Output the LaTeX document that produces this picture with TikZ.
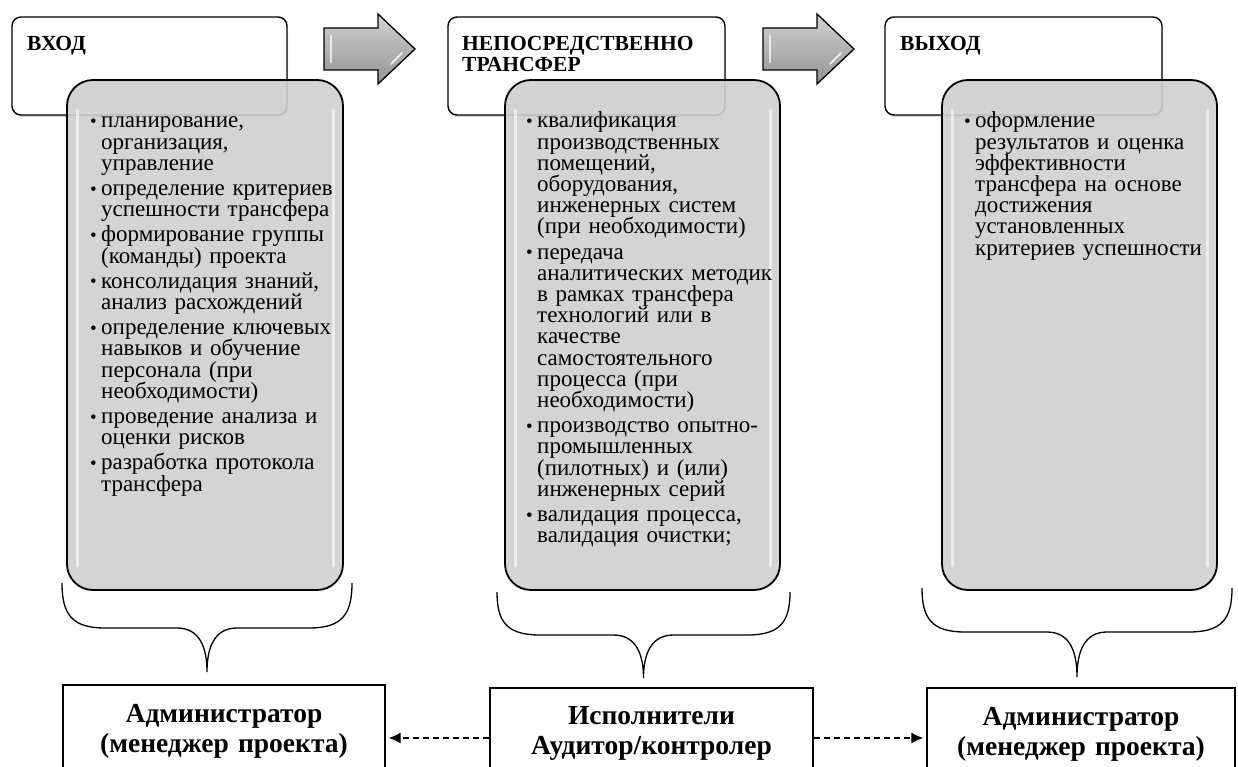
\documentclass[tikz,border=0pt]{standalone}
\usepackage{fontspec}
\setmainfont{Liberation Serif}
\usetikzlibrary{arrows.meta,shadows}
\definecolor{boxgray}{HTML}{CFCFCF}
\newcommand\mybul{\makebox[11pt][l]{\raisebox{0.5pt}{\fontsize{19}{19}\selectfont\textbullet}}}
\newcommand\myind{\hspace*{11pt}}
\newcommand\mybrace[5]{%
  \draw[bracestyle] (#1,#3) .. controls (#1,{#3+(#4-#3)*0.7}) and ({#1+10},#4) .. ({#1+43},#4)
    -- ({(#1+#2)/2-30},#4) .. controls ({(#1+#2)/2-7},#4) and ({(#1+#2)/2},{#4+20}) .. ({(#1+#2)/2},#5)
    .. controls ({(#1+#2)/2},{#4+20}) and ({(#1+#2)/2+7},#4) .. ({(#1+#2)/2+30},#4)
    -- ({#2-43},#4) .. controls ({#2-10},#4) and (#2,{#3+(#4-#3)*0.7}) .. (#2,#3);}
\newcommand\myarrow[1]{%
  \path[blockarrow] (#1,28) -- ({#1+54},28) -- ({#1+54},14) -- ({#1+91},49) -- ({#1+54},84) -- ({#1+54},70) -- (#1,70) -- cycle;
  \draw[hilite, line width=2.5pt] ({#1+7},36) -- ({#1+7},62);
  \draw[hilite, line width=2pt] ({#1+67},64) -- ({#1+78},53);}
\newcommand\myhl[2]{%
  \draw[hilite, line width=3pt, opacity=0.6] ({#1+10},110) -- ({#1+10},566);
  \draw[hilite, line width=3pt, opacity=0.6] ({#2-10},110) -- ({#2-10},566);}
\begin{document}
\begin{tikzpicture}[x=1pt,y=-1pt,
  hdrbox/.style={draw=black, line width=1.4pt, fill=white, rounded corners=9pt,
    minimum width=275pt, minimum height=98pt, inner sep=0pt,
    drop shadow={shadow xshift=1pt, shadow yshift=-2pt, opacity=0.3}},
  graybox/.style={draw=black, line width=1.8pt, fill=boxgray, fill opacity=0.9,
    rounded corners=26pt, minimum width=276pt, minimum height=510pt, inner sep=0pt},
  hdrtxt/.style={anchor=base west, inner sep=0pt, text width=260pt, align=left,
    font={\fontsize{21.5}{21}\selectfont\bfseries\lineskiplimit=-100pt}},
  body/.style={anchor=base west, inner sep=0pt, text width=262pt, align=left, text=black,
    font={\fontsize{23}{21.2}\selectfont\lineskiplimit=-100pt}},
  blockarrow/.style={draw=black, line width=1.3pt, top color=black!18, bottom color=black!42, line join=miter},
  hilite/.style={white, opacity=0.75, line cap=round},
  bracestyle/.style={draw=black, line width=1.3pt},
  botbox/.style={draw=black, line width=1.4pt, fill=white, inner sep=0pt},
  bottxt/.style={anchor=base, inner sep=0pt, text width=310pt, align=center,
    font={\fontsize{27.5}{30}\selectfont\bfseries\lineskiplimit=-100pt}},
  dasharr/.style={draw=black, line width=1.3pt, dash pattern=on 6pt off 4pt,
    -{Latex[length=12pt,width=11pt]}, shorten >=3pt}
]
\useasboundingbox (0,0) rectangle (1238,767);
\clip (0,0) rectangle (1238,767);

% header boxes
\node[hdrbox] (h1) at (149.5,66) {};
\node[hdrbox, minimum width=277pt] (h2) at (586.5,66) {};
\node[hdrbox, minimum width=277pt] (h3) at (1023.5,66) {};

% gray content boxes
\node[graybox] (g1) at (205,335) {};
\node[graybox, minimum width=275pt] (g2) at (642.5,335) {};
\node[graybox, minimum width=275pt] (g3) at (1079.5,335) {};
\myhl{67}{343}
\myhl{505}{780}
\myhl{942}{1217}

% header texts
\node[hdrtxt] (h1t) at (27,51) {ВХОД};
\node[hdrtxt] (h2t) at (462,51) {НЕПОСРЕДСТВЕННО\\ТРАНСФЕР};
\node[hdrtxt] (h3t) at (900,51) {ВЫХОД};

% arrows
\myarrow{324}
\myarrow{763}

% body texts
\node[body] (t1) at (90,128) {\mybul планирование,\\
\myind организация,\\
\myind управление\\[4pt]
\mybul определение критериев\\
\myind успешности трансфера\\[4pt]
\mybul формирование группы\\
\myind (команды) проекта\\[4pt]
\mybul консолидация знаний,\\
\myind анализ расхождений\\[4pt]
\mybul определение ключевых\\
\myind навыков и обучение\\
\myind персонала (при\\
\myind необходимости)\\[4pt]
\mybul проведение анализа и\\
\myind оценки рисков\\[4pt]
\mybul разработка протокола\\
\myind трансфера};

\node[body] (t2) at (526,128) {\mybul квалификация\\
\myind производственных\\
\myind помещений,\\
\myind оборудования,\\
\myind инженерных систем\\
\myind (при необходимости)\\[4pt]
\mybul передача\\
\myind аналитических методик\\
\myind в рамках трансфера\\
\myind технологий или в\\
\myind качестве\\
\myind самостоятельного\\
\myind процесса (при\\
\myind необходимости)\\[4pt]
\mybul производство опытно-\\
\myind промышленных\\
\myind (пилотных) и (или)\\
\myind инженерных серий\\[4pt]
\mybul валидация процесса,\\
\myind валидация очистки;};

\node[body] (t3) at (964,128) {\mybul оформление\\
\myind результатов и оценка\\
\myind эффективности\\
\myind трансфера на основе\\
\myind достижения\\
\myind установленных\\
\myind критериев успешности};

% braces
\mybrace{62}{352}{583}{628}{672}
\mybrace{497}{790}{592}{635}{678}
\mybrace{922}{1232}{588}{632}{677}

% bottom boxes
\node[botbox, minimum width=322pt, minimum height=106pt] (b1) at (224,738) {};
\node[botbox, minimum width=323pt, minimum height=100pt] (b2) at (651.5,738) {};
\node[botbox, minimum width=308pt, minimum height=100pt] (b3) at (1081,738) {};
\node[bottxt] (b1t) at (224,722) {Администратор\\(менеджер проекта)};
\node[bottxt] (b2t) at (651.5,724) {Исполнители\\Аудитор/контролер};
\node[bottxt] (b3t) at (1081,725) {Администратор\\(менеджер проекта)};

\draw[dasharr] (b2.west) -- (b1.east);
\draw[dasharr] (b2.east) -- (b3.west);
\end{tikzpicture}
\end{document}
